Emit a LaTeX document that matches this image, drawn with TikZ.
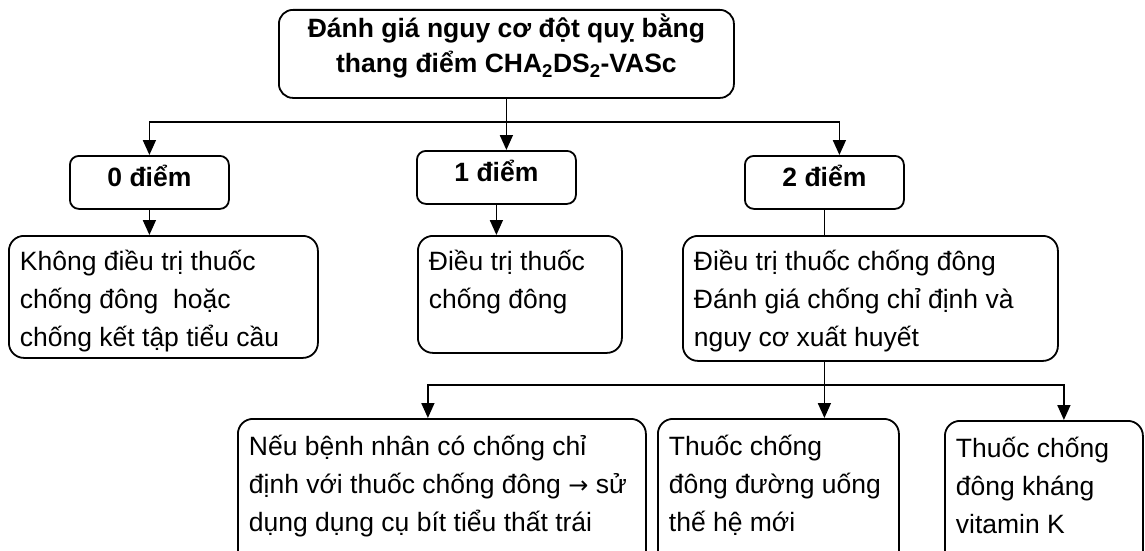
\documentclass[tikz,border=0pt]{standalone}
\usepackage{fontspec}
\setmainfont{Liberation Sans}
\newfontfamily\dvfont{DejaVu Sans}
\usetikzlibrary{arrows.meta}
\newcommand{\bt}[5]{\begin{minipage}[t][#2][t]{#1}#3\rule{0pt}{#4}#5\end{minipage}}
\tikzset{
  boxbase/.style={draw, line width=1.8pt, inner xsep=11pt, inner ysep=0pt, anchor=north west},
  bodybox/.style={boxbase, rounded corners=15pt, font=\fontsize{26.5}{38}\selectfont},
  scorebox/.style={boxbase, rounded corners=9pt, font=\fontsize{26.5}{35}\selectfont\bfseries},
  titlebox/.style={boxbase, rounded corners=14pt, font=\fontsize{26.5}{35}\selectfont\bfseries},
  conn/.style={line width=1.7pt},
  arr/.style={conn, -{Triangle[width=13pt,length=15pt]}}
}
\begin{document}
\begin{tikzpicture}[x=1pt,y=-1pt]
\useasboundingbox (0,0) rectangle (1145,551);
\fill[white] (0,0) rectangle (1145,551);
\clip (0,0) rectangle (1145,551);

\node[titlebox] (top) at (278,9) {\bt{433pt}{88pt}{\centering}{28pt}{Đánh giá nguy cơ đột quỵ bằng\\thang điểm CHA\textsubscript{2}DS\textsubscript{2}-VASc}};

\node[scorebox] (s0) at (69,155) {\bt{137pt}{53pt}{\centering}{31pt}{0 điểm}};
\node[scorebox] (s1) at (416,150) {\bt{137pt}{53pt}{\centering}{31pt}{1 điểm}};
\node[scorebox] (s2) at (744,155) {\bt{137pt}{53pt}{\centering}{31pt}{2 điểm}};

\node[bodybox] (A) at (8,235) {\bt{287pt}{122pt}{\raggedright}{35pt}{\mbox{Không điều trị thuốc}\\\mbox{chống đông\ \ hoặc}\\\mbox{chống kết tập tiểu cầu}}};
\node[bodybox] (B) at (417,235) {\bt{182pt}{117pt}{\raggedright}{35pt}{\mbox{Điều trị thuốc}\\\mbox{chống đông}}};
\node[bodybox] (C) at (682,235) {\bt{353pt}{125pt}{\raggedright}{35pt}{\mbox{Điều trị thuốc chống đông}\\\mbox{Đánh giá chống chỉ định và}\\\mbox{nguy cơ xuất huyết}}};

\node[bodybox] (D) at (237,418) {\bt{386pt}{160pt}{\raggedright}{37pt}{\mbox{Nếu bệnh nhân có chống chỉ}\\\mbox{định với thuốc chống đông {\dvfont\fontsize{24}{38}\selectfont →} sử}\\\mbox{dụng dụng cụ bít tiểu thất trái}}};
\node[bodybox] (E) at (657,418) {\bt{219pt}{160pt}{\raggedright}{37pt}{\mbox{Thuốc chống}\\\mbox{đông đường uống}\\\mbox{thế hệ mới}}};
\node[bodybox] (F) at (944,420) {\bt{176pt}{160pt}{\raggedright}{37pt}{\mbox{Thuốc chống}\\\mbox{đông kháng}\\\mbox{vitamin K}}};

\path (top.south) ++(0,23) coordinate (j1);
\draw[arr] (top.south) -- (top.south |- s1.north);
\draw[arr] (j1) -| (s0.north);
\draw[arr] (j1) -| ([xshift=15pt]s2.north);
\draw[arr] (s0.south) -- (s0.south |- A.north);
\draw[arr] (s1.south) -- (s1.south |- B.north);
\draw[conn] (s2.south) -- (s2.south |- C.north);
\path (C.south -| s2.south) ++(0,23) coordinate (j2);
\draw[conn] (C.south -| j2) -- (j2);
\draw[arr] (j2) -- (j2 |- E.north);
\draw[arr] (j2) -| ([xshift=-14pt]D.north);
\draw[arr] (j2) -| ([xshift=20pt]F.north);
\end{tikzpicture}
\end{document}
